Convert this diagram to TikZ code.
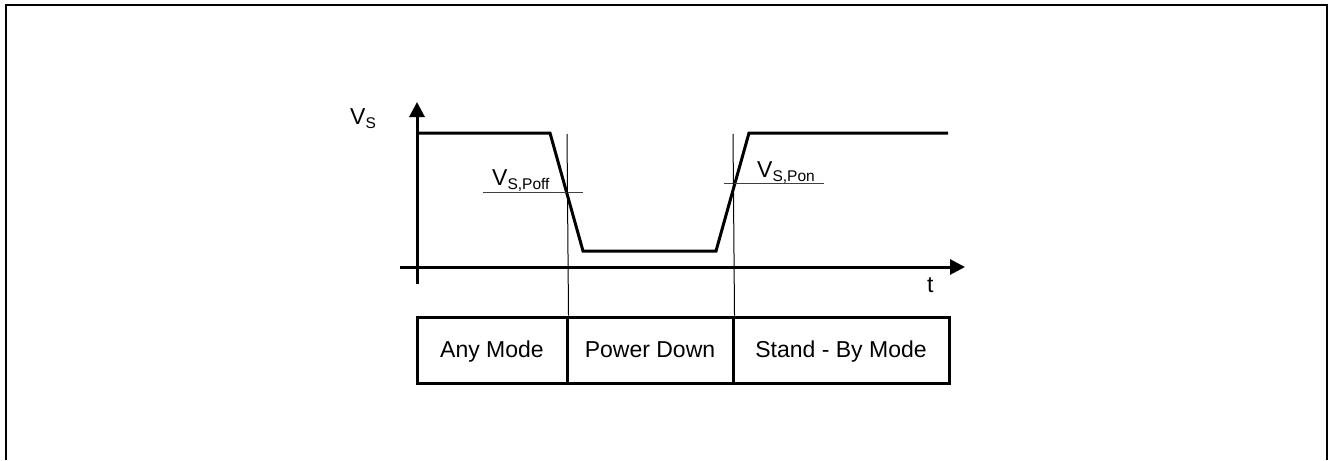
\documentclass[tikz,border=0pt]{standalone}
\usepackage{fontspec}
\setmainfont{Liberation Sans}
\usetikzlibrary{arrows.meta}

\newcommand{\idx}[1]{\raisebox{-4pt}{\fontsize{15.5}{16}\selectfont #1}}

\tikzset{
  frame/.style={line width=1.5pt},
  thickline/.style={line width=3pt},
  thinline/.style={line width=1pt},
  levelline/.style={line width=1pt, black!75},
  axis/.style={line width=3pt, -{Triangle[length=15pt,width=15pt]}},
  label/.style={font=\fontsize{23}{27}\selectfont, inner sep=0pt},
  cell/.style={draw, line width=3pt, minimum height=66pt, inner sep=0pt,
    text height=20pt, text depth=5pt, font=\fontsize{23}{27}\selectfont}
}

\begin{document}
\begin{tikzpicture}[x=1pt,y=-1pt]
    \useasboundingbox (0,0) rectangle (1329,460);
    \draw[frame] (6,460) -- (6,5) -- (1327,5) -- (1327,460);

    % axes
    \coordinate (ybot) at (417,284); \coordinate (ytop) at (417,102);
    \coordinate (xleft) at (400,267); \coordinate (xright) at (965,267);
    \draw[axis] (ybot) -- (ytop);
    \draw[axis] (xleft) -- (xright);
    \node[label, anchor=base west] (vs) at (350,124) {V\idx{S}};
    \node[label, anchor=base west] (t) at (927,292) {t};

    % supply voltage
    \coordinate (s0) at (417,133); \coordinate (s1) at (550,133);
    \coordinate (s2) at (583,251); \coordinate (s3) at (716,251);
    \coordinate (s4) at (749,133); \coordinate (s5) at (948,133);
    \draw[thickline, line join=miter] (s0) -- (s1) -- (s2) -- (s3) -- (s4) -- (s5);

    % thresholds
    \coordinate (offa) at (483,192); \coordinate (offb) at (583,192);
    \coordinate (ona) at (724,183); \coordinate (onb) at (824,183);
    \draw[levelline] (offa) -- (offb);
    \draw[levelline] (ona) -- (onb);
    \node[label, anchor=base west] (poff) at (492,185) {V\idx{S,Poff}};
    \node[label, anchor=base west] (pon) at (757,177) {V\idx{S,Pon}};

    % mode boxes
    \node[cell, minimum width=150pt] (any) at (492,350) {Any Mode};
    \node[cell, minimum width=166pt] (down) at (650,350) {Power Down};
    \node[cell, minimum width=216pt] (stby) at (841,350) {Stand - By Mode};

    \coordinate (m1) at (567,134); \coordinate (m2) at (733,134);
    \draw[thinline] (m1) -- (any.north east);
    \draw[thinline] (m2) -- (down.north east);
\end{tikzpicture}
\end{document}
